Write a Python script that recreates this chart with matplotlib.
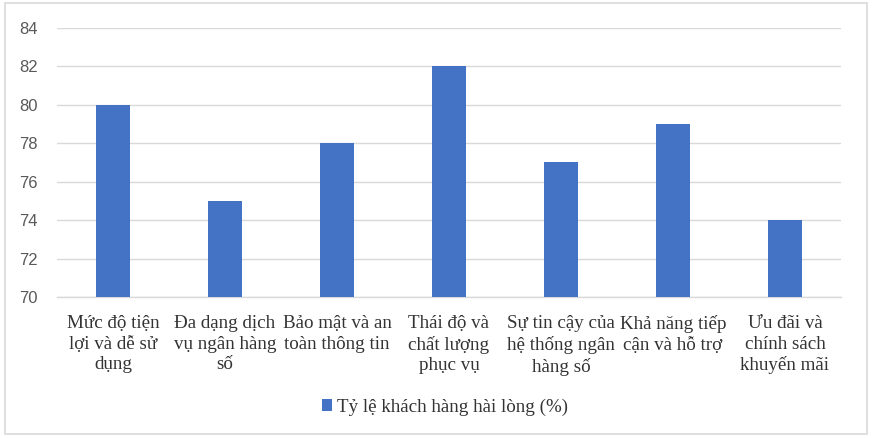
import matplotlib
matplotlib.use("Agg")
import matplotlib.pyplot as plt
from matplotlib.patches import Rectangle

categories = ["Mức độ tiện\nlợi và dễ sử\ndụng",
              "Đa dạng dịch\nvụ ngân hàng\nsố",
              "Bảo mật và an\ntoàn thông tin",
              "Thái độ và\nchất lượng\nphục vụ",
              "Sự tin cậy của\nhệ thống ngân\nhàng số",
              "Khả năng tiếp\ncận và hỗ trợ",
              "Ưu đãi và\nchính sách\nkhuyến mãi"]
values = [80, 75, 78, 82, 77, 79, 74]
series_name = "Tỷ lệ khách hàng hài lòng (%)"
yticks = [70, 72, 74, 76, 78, 80, 82, 84]

BLUE = "#4472C4"
TEXT = "#333333"
SERIF = ["Liberation Serif", "DejaVu Serif"]

fig = plt.figure(figsize=(8.72, 4.38), dpi=100)
fig.patches.append(Rectangle((0.006, 0.01), 0.988, 0.983, transform=fig.transFigure,
                             fill=False, ec="#d9d9d9", lw=1.2))
ax = fig.add_axes([0.0654, 0.322, 0.899, 0.614])

x = range(len(categories))
ax.bar(x, values, width=0.31, color=BLUE, label=series_name, zorder=3)
ax.set_xlim(-0.5, len(categories) - 0.5)
ax.set_ylim(70, 84)
ax.set_yticks(yticks)
ax.set_yticklabels([str(v) for v in yticks], fontsize=12, color="#595959",
                   family=["Liberation Sans", "DejaVu Sans"])
ax.set_xticks(list(x))
ax.set_xticklabels(categories, fontsize=13.7, family=SERIF, color=TEXT,
                   linespacing=1.27)
ax.tick_params(axis="both", length=0)
ax.tick_params(axis="y", pad=14)
ax.tick_params(axis="x", pad=13)
ax.grid(axis="y", color="#d9d9d9", lw=1, zorder=0)
for s in ("top", "right", "left"):
    ax.spines[s].set_visible(False)
ax.spines["bottom"].set_color("#d9d9d9")
ax.spines["bottom"].set_linewidth(1)

fig.legend(loc="center", bbox_to_anchor=(0.51, 0.07), frameon=False,
           prop={"family": SERIF, "size": 13.7}, handlelength=0.55, handleheight=0.55,
           handletextpad=0.25, labelcolor=TEXT)

fig.savefig("out.png", dpi=100)
